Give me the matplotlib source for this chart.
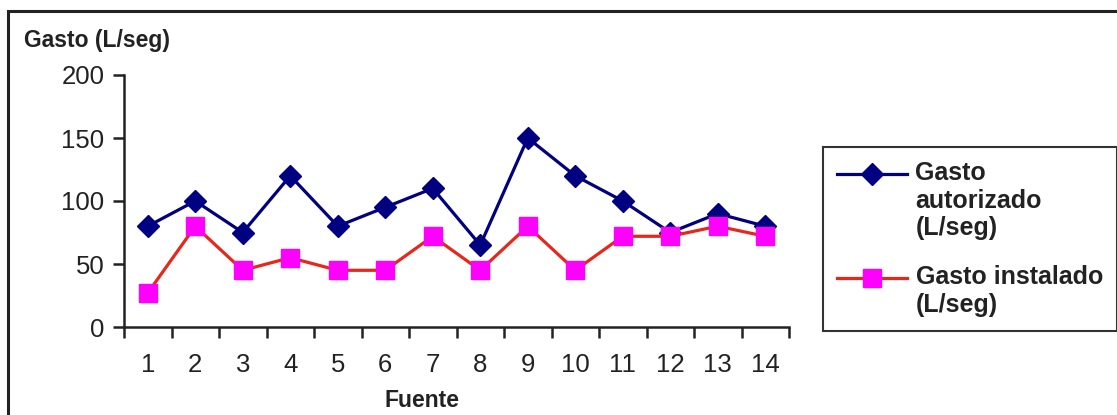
import numpy as np
import matplotlib
matplotlib.use("Agg")
import matplotlib.pyplot as plt
from matplotlib.legend_handler import HandlerLine2D
from matplotlib.patches import Rectangle

plt.rcParams['font.family'] = ['Liberation Sans', 'DejaVu Sans']

# data
fuente = list(range(1, 15))
gasto_autorizado = [80, 100, 75, 120, 80, 95, 110, 65, 150, 120, 100, 75, 90, 80]
gasto_instalado = [27, 80, 45, 55, 45, 45, 72, 45, 80, 45, 72, 72, 80, 72]
y_ticks = [0, 50, 100, 150, 200]


class FirstLineHandler(HandlerLine2D):
    # put the legend handle next to the first line of a multi-line label
    def __init__(self, nlines, **kw):
        super().__init__(**kw)
        self.nlines = nlines

    def create_artists(self, legend, orig_handle, xdescent, ydescent,
                       width, height, fontsize, trans):
        arts = super().create_artists(legend, orig_handle, xdescent, ydescent,
                                      width, height, fontsize, trans)
        shift = (self.nlines - 1) / 2 * 1.1 * fontsize
        for a in arts:
            a.set_ydata(np.asarray(a.get_ydata()) + shift)
        return arts


W, H = 1117, 415
fig = plt.figure(figsize=(W / 100, H / 100), dpi=100)
ax = fig.add_axes([124 / W, 1 - 327 / H, (789 - 124) / W, (327 - 75) / H])

l1, = ax.plot(fuente, gasto_autorizado, color='#000080', lw=2.3,
              marker='D', markersize=11, markerfacecolor='#000080',
              markeredgecolor='#000080', label='Gasto\nautorizado\n(L/seg)')
l2, = ax.plot(fuente, gasto_instalado, color='#e8271c', lw=2.3,
              marker='s', markersize=12.5, markerfacecolor='#ff00ff',
              markeredgecolor='#ff00ff', label='Gasto instalado\n(L/seg)')

ax.set_xlim(0.5, 14.5)
ax.set_ylim(0, 200)
ax.set_yticks(y_ticks)
ax.set_xticks(fuente)
ax.set_xticks(np.arange(0.5, 15, 1), minor=True)
ax.tick_params(axis='x', which='major', length=0, pad=19, labelsize=18.5, labelcolor='#222222')
ax.tick_params(axis='x', which='minor', length=8, width=1.8, direction='out', color='#222222')
ax.tick_params(axis='y', length=8, width=1.8, pad=6, labelsize=18.5, labelcolor='#222222', color='#222222')

for s in ['top', 'right']:
    ax.spines[s].set_visible(False)
for s in ['left', 'bottom']:
    ax.spines[s].set_linewidth(1.8)
    ax.spines[s].set_color('#222222')

fig.text(24 / W, 1 - 40 / H, 'Gasto (L/seg)', ha='left', va='center',
         fontsize=16.5, fontweight='bold', color='#222222')
fig.text(422 / W, 1 - 400 / H, 'Fuente', ha='center', va='center',
         fontsize=16.5, fontweight='bold', color='#222222')

leg = fig.legend(handles=[l1, l2], loc='upper left',
                 bbox_to_anchor=(823 / W, 1 - 147 / H), borderaxespad=0,
                 prop={'size': 18, 'weight': 'bold'}, fancybox=False,
                 edgecolor='#333333', framealpha=1, handlelength=2.8,
                 handletextpad=0.35, labelspacing=1.0, borderpad=0.55,
                 handler_map={l1: FirstLineHandler(3), l2: FirstLineHandler(2)})
leg.get_frame().set_linewidth(1.5)
for t in leg.get_texts():
    t.set_color('#222222')

# outer frame of the picture
fig.add_artist(Rectangle((8 / W, -0.5), 2, 1.5 - 11 / H, transform=fig.transFigure,
                         fill=False, edgecolor='#222222', linewidth=2.2))

fig.savefig('out.png', dpi=100)
